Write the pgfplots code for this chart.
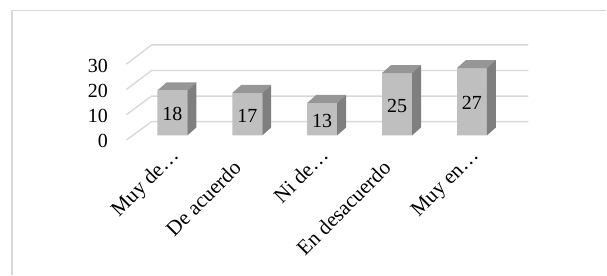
\documentclass[border=0pt]{standalone}
\usepackage{fontspec}
\setmainfont{Liberation Serif}
\usepackage{pgfplots}
\pgfplotsset{compat=1.18}
\definecolor{barfront}{RGB}{191,191,191}
\definecolor{bartop}{RGB}{150,150,150}
\definecolor{barside}{RGB}{127,127,127}
\definecolor{gridc}{RGB}{217,217,217}
\begin{document}
\begin{tikzpicture}
\begin{axis}[
  scale only axis, width=607pt, height=275pt,
  xmin=-2.3, xmax=5.79333, ymin=-55.8, ymax=54.2,
  axis line style={draw=none}, major tick length=0pt,
  clip=false,
  /pgf/number format/assume math mode=true,
  xtick={0,1,2,3,4},
  xticklabels={Muy de…, De acuerdo\rule{17.5pt}{0pt}, Ni de…, En desacuerdo\rule{17.5pt}{0pt}, Muy en…},
  ytick={-2.2,7.8,17.9,27.9}, yticklabels={0,10,20,30},
  yticklabel style={font=\fontsize{20}{24}\selectfont, inner sep=0pt, anchor=east, xshift=108pt},
  xticklabel style={font=\fontsize{21}{25}\selectfont, yshift=118pt, xshift=7.5pt, rotate=45, anchor=base east, inner sep=0pt},
]
% chart frame
\draw[gridc, line width=1.4pt] (axis cs:-2.14,-55.8) -- (axis cs:-2.14,50) -- (axis cs:5.7933,50);
% gridlines (side wall + back wall)
\addplot[gridc, line width=1.4pt] coordinates {(-0.6133,-1.8) (-0.2773,5.52) (4.7533,5.52)};
\addplot[gridc, line width=1.4pt] coordinates {(-0.6133,8.32) (-0.2773,15.76) (4.7533,15.76)};
\addplot[gridc, line width=1.4pt] coordinates {(-0.6133,18.44) (-0.2773,26.0) (4.7533,26.0)};
\addplot[gridc, line width=1.4pt] coordinates {(-0.6133,28.56) (-0.2773,36.24) (4.7533,36.24)};
% front faces
\addplot[ybar, bar width=30pt, fill=barfront, draw=none] coordinates {(0,18) (1,17) (2,13) (3,25) (4,27)};
% top faces
\addplot[fill=bartop, draw=none] coordinates {(-0.2,18) (-0.08,21.2) (0.32,21.2) (0.2,18)};
\addplot[fill=bartop, draw=none] coordinates {(0.8,17) (0.92,20.2) (1.32,20.2) (1.2,17)};
\addplot[fill=bartop, draw=none] coordinates {(1.8,13) (1.92,16.2) (2.32,16.2) (2.2,13)};
\addplot[fill=bartop, draw=none] coordinates {(2.8,25) (2.92,28.2) (3.32,28.2) (3.2,25)};
\addplot[fill=bartop, draw=none] coordinates {(3.8,27) (3.92,30.2) (4.32,30.2) (4.2,27)};
% side faces
\addplot[fill=barside, draw=none] coordinates {(0.2,0) (0.2,18) (0.32,21.2) (0.32,3.2)};
\addplot[fill=barside, draw=none] coordinates {(1.2,0) (1.2,17) (1.32,20.2) (1.32,3.2)};
\addplot[fill=barside, draw=none] coordinates {(2.2,0) (2.2,13) (2.32,16.2) (2.32,3.2)};
\addplot[fill=barside, draw=none] coordinates {(3.2,0) (3.2,25) (3.32,28.2) (3.32,3.2)};
\addplot[fill=barside, draw=none] coordinates {(4.2,0) (4.2,27) (4.32,30.2) (4.32,3.2)};
% value labels
\addplot[draw=none, mark=none, nodes near coords, point meta=explicit,
  every node near coord/.append style={anchor=center, yshift=-1.5pt, font=\fontsize{20}{24}\selectfont, text=black}]
  coordinates {(0,9)[18] (1,8.5)[17] (2,6.5)[13] (3,12.5)[25] (4,13.5)[27]};
\end{axis}
\end{tikzpicture}
\end{document}
